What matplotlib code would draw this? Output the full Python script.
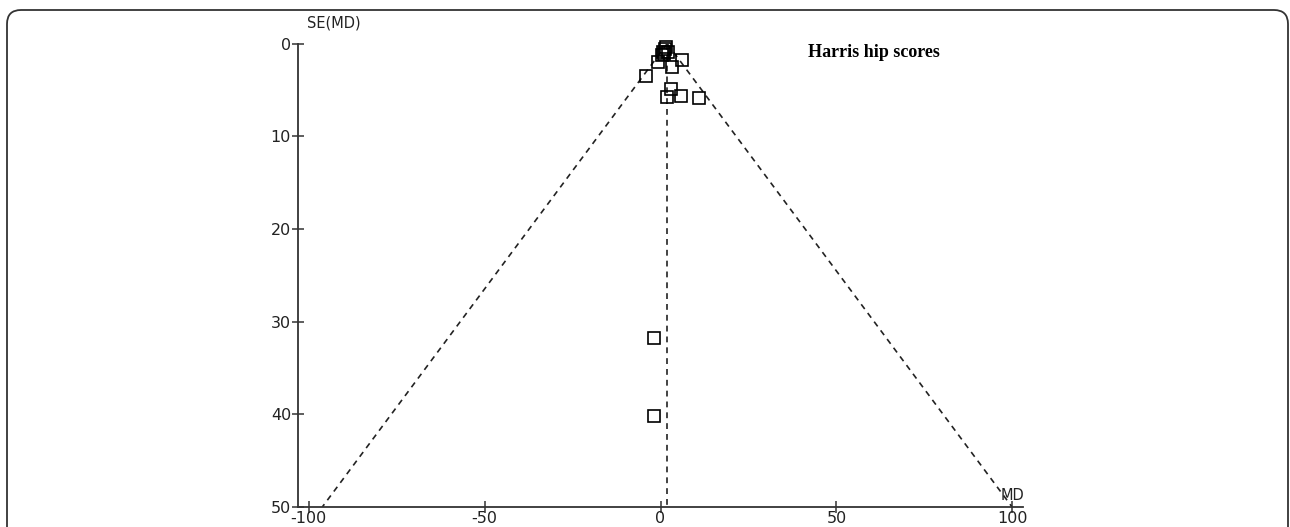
import matplotlib
matplotlib.use("Agg")
import matplotlib.pyplot as plt
from matplotlib.patches import FancyBboxPatch

# study estimates
md = [1.6, 1.2, 0.8, 2.0, 1.0, 0.4, -0.8, 6.1, 3.3, -4.1, 3.0, 1.9, 5.9, 10.8, -1.9, -1.9]
se = [0.35, 0.6, 0.9, 0.9, 1.1, 1.2, 1.95, 1.8, 2.5, 3.45, 4.9, 5.8, 5.7, 5.9, 31.8, 40.2]
pooled_md = 1.9
se_max = 50
x_ticks = [-100, -50, 0, 50, 100]
y_ticks = [0, 10, 20, 30, 40, 50]

plt.rcParams['axes.unicode_minus'] = False

fig = plt.figure(figsize=(12.9, 5.27), dpi=100)

# rounded frame around the figure (bottom edge cut off), in pixels
frame = FancyBboxPatch((7, -60), 1281, 527 - 10 + 60,
                       boxstyle="round,pad=0,rounding_size=14",
                       transform=None, fill=False,
                       edgecolor='#333333', linewidth=1.3)
fig.patches.append(frame)

ax = fig.add_axes([298 / 1290, 1 - 507 / 527, (1023 - 298) / 1290, (507 - 43.6) / 527])

# funnel limits and pooled estimate
dash = (0, (3.5, 3))
ax.plot([pooled_md, pooled_md], [0, se_max], color='#222222', ls=dash, lw=1.2)
ax.plot([pooled_md, pooled_md - 1.96 * se_max], [0, se_max], color='#222222', ls=dash, lw=1.2)
ax.plot([pooled_md, pooled_md + 1.96 * se_max], [0, se_max], color='#222222', ls=dash, lw=1.2)

ax.plot(md, se, linestyle='none', marker='s', markersize=8, markerfacecolor='none',
        markeredgecolor='black', markeredgewidth=1.2, clip_on=False)

ax.set_xlim(-103, 103)
ax.set_ylim(se_max, 0)
ax.set_xticks(x_ticks)
ax.set_yticks(y_ticks)
for s in ['top', 'right']:
    ax.spines[s].set_visible(False)
for s in ['left', 'bottom']:
    ax.spines[s].set_color('#333333')
    ax.spines[s].set_linewidth(1.3)
ax.tick_params(direction='inout', length=8, width=1.1, color='#333333',
               labelsize=11.5, labelcolor='#222222')
ax.tick_params(axis='x', pad=-1)
ax.tick_params(axis='y', pad=1)

ax.text(0.012, 1.045, 'SE(MD)', transform=ax.transAxes, fontsize=10.5,
        color='#222222', ha='left', va='center')
ax.text(100, 48.8, 'MD', fontsize=10.5, color='#222222', ha='center', va='center')
ax.text(0.795, 0.98, 'Harris hip scores', transform=ax.transAxes, fontsize=13,
        family='Liberation Serif', fontweight='bold', ha='center', va='center')

fig.savefig('out.png', dpi=100)
